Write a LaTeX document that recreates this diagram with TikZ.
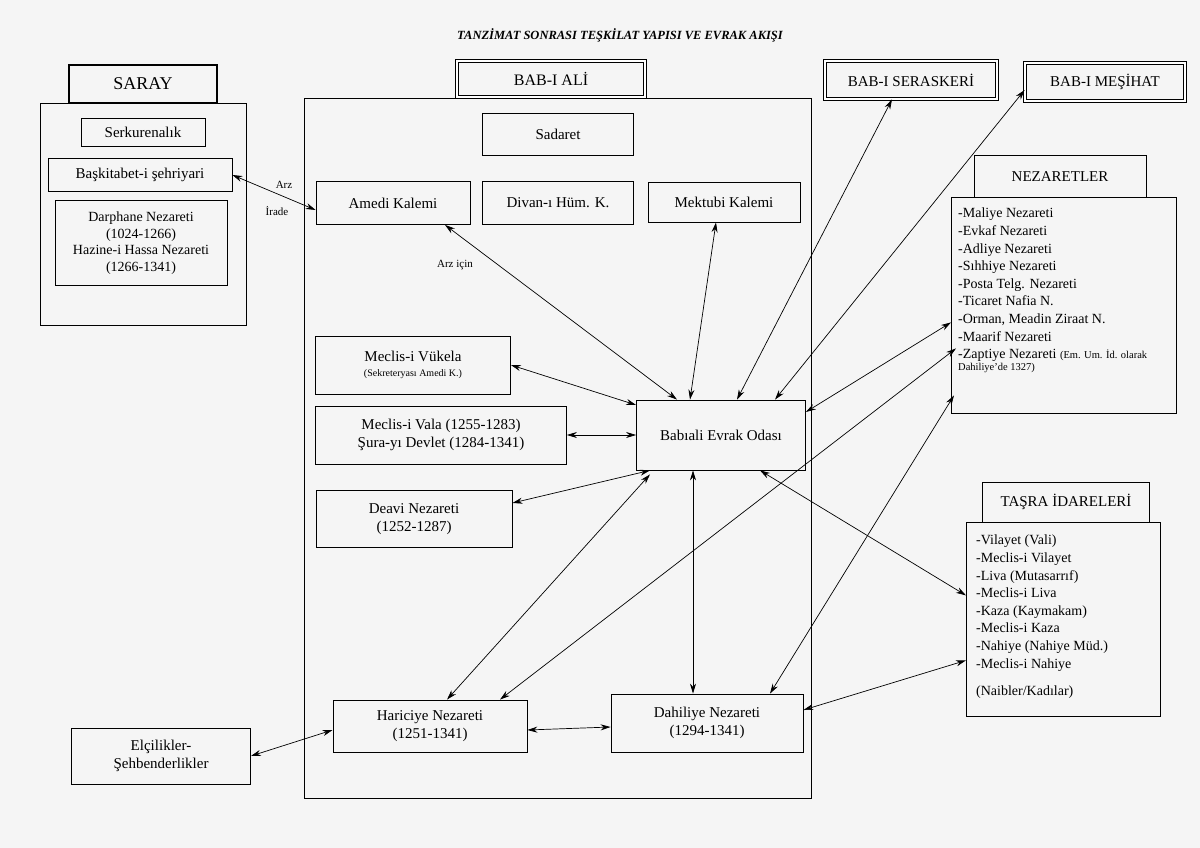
\documentclass[tikz,border=0pt]{standalone}
\usepackage{fontspec}
\setmainfont{Liberation Serif}
\usetikzlibrary{arrows.meta,calc}
\begin{document}
\begin{tikzpicture}[x=1pt,y=-1pt,
  box/.style={draw,line width=0.8pt,inner sep=2pt,align=center,font=\fontsize{15}{18}\selectfont},
  dbl/.style={box,double,double distance=1.6pt,font=\fontsize{16}{18}\selectfont},
  lst/.style={anchor=north west,align=left,inner sep=0pt,font=\fontsize{14}{17.6}\selectfont},
  arr/.style={{Stealth[length=10pt,width=6pt]}-{Stealth[length=10pt,width=6pt]},line width=0.7pt},
  lbl/.style={font=\fontsize{11}{13}\selectfont}]
\useasboundingbox (0,0) rectangle (1200,848);
\fill[gray!8] (0,0) rectangle (1200,848);
\node[font=\bfseries\itshape\fontsize{12.5}{14}\selectfont] (title) at (620,35) {TANZİMAT SONRASI TEŞKİLAT YAPISI VE EVRAK AKIŞI};
% SARAY
\node[draw,line width=0.8pt,minimum width=206pt,minimum height=222pt] (sarayc) at (143,214) {};
\node[box,line width=2.2pt,minimum width=148pt,minimum height=38pt,fill=gray!8,font=\fontsize{18}{20}\selectfont] (saray) at (143,84) {SARAY};
\node[box,minimum width=124pt,minimum height=28pt] (serk) at (143,132) {Serkurenalık};
\node[box,minimum width=184pt,minimum height=33pt] (bask) at (140,175) {Başkitabet-i şehriyari};
\node[box,minimum width=172pt,minimum height=85pt,font=\fontsize{14}{16.5}\selectfont] (darp) at (141,243) {Darphane Nezareti\\(1024-1266)\\Hazine-i Hassa Nezareti\\(1266-1341)};
% BAB-I ALI
\node[draw,line width=0.8pt,minimum width=507pt,minimum height=700pt] (babc) at (558,448) {};
\node[dbl,minimum width=188pt,minimum height=36pt,fill=gray!8] (bab) at (551,79) {BAB-I ALİ};
\node[box,minimum width=151pt,minimum height=42pt] (sad) at (558,134) {Sadaret};
\node[box,minimum width=154pt,minimum height=43pt] (amedi) at (393,203) {Amedi Kalemi};
\node[box,minimum width=151pt,minimum height=43pt] (divan) at (558,203) {Divan-ı Hüm. K.};
\node[box,minimum width=152pt,minimum height=40pt] (mekt) at (724,202) {Mektubi Kalemi};
\node[box,minimum width=195pt,minimum height=58pt] (vuk) at (413,365) {Meclis-i Vükela\\[-3pt]{\fontsize{10}{12}\selectfont (Sekreteryası Amedi K.)}};
\node[box,minimum width=251pt,minimum height=58pt] (vala) at (441,435) {Meclis-i Vala (1255-1283)\\Şura-yı Devlet (1284-1341)};
\node[box,minimum width=196pt,minimum height=57pt] (deavi) at (414,519) {Deavi Nezareti\\(1252-1287)};
\node[box,minimum width=169pt,minimum height=70pt] (evrak) at (721,435) {Babıali Evrak Odası};
\node[box,minimum width=194pt,minimum height=52pt] (har) at (430,726) {Hariciye Nezareti\\(1251-1341)};
\node[box,minimum width=192pt,minimum height=58pt] (dah) at (707,723) {Dahiliye Nezareti\\(1294-1341)};
\node[box,minimum width=179pt,minimum height=56pt] (elc) at (161,756) {Elçilikler-\\Şehbenderlikler};
% right
\node[dbl,minimum width=172pt,minimum height=38pt,font=\fontsize{15}{17}\selectfont] (ser) at (911,80) {BAB-I SERASKERİ};
\node[dbl,minimum width=160pt,minimum height=38pt,font=\fontsize{15}{17}\selectfont] (mes) at (1105,82) {BAB-I MEŞİHAT};
\node[box,minimum width=172pt,minimum height=42pt,anchor=north] (nezh) at (1060,155) {NEZARETLER};
\node[draw,line width=0.8pt,minimum width=225pt,minimum height=216pt,anchor=north west,fill=gray!8] (nez) at (951,197) {};
\node[lst] (nezt) at (958,208) {-Maliye Nezareti\\-Evkaf Nezareti\\-Adliye Nezareti\\-Sıhhiye Nezareti\\-Posta Telg. Nezareti\\-Ticaret Nafia N.\\-Orman, Meadin Ziraat N.\\-Maarif Nezareti\\-Zaptiye Nezareti {\fontsize{10.5}{12}\selectfont (Em. Um. İd. olarak}\\[-6pt]{\fontsize{10.5}{12}\selectfont Dahiliye'de 1327)}};
\node[box,minimum width=167pt,minimum height=40pt,anchor=north] (tash) at (1066,482) {TAŞRA İDARELERİ};
\node[draw,line width=0.8pt,minimum width=194pt,minimum height=194pt,anchor=north west,fill=gray!8] (tas) at (966,522) {};
\node[lst] (tast) at (976,535) {-Vilayet (Vali)\\-Meclis-i Vilayet\\-Liva (Mutasarrıf)\\-Meclis-i Liva\\-Kaza (Kaymakam)\\-Meclis-i Kaza\\-Nahiye (Nahiye Müd.)\\-Meclis-i Nahiye\\[10pt](Naibler/Kadılar)};
% arrows
\draw[arr] (bask.east) -- ([yshift=-7pt]amedi.west);
\node[lbl] at (284,185) {Arz};
\node[lbl] at (277,211) {İrade};
\draw[arr] ([xshift=52pt]amedi.south) -- ([xshift=-44pt]evrak.north);
\node[lbl] at (455,265) {Arz için};
\draw[arr] ([xshift=-8pt]mekt.south) -- ([xshift=-31pt]evrak.north);
\draw[arr] ([xshift=-19pt]ser.south) -- ([xshift=16pt]evrak.north);
\draw[arr] ([yshift=-8pt]mes.west) -- ([xshift=54pt]evrak.north);
\draw[arr] (vuk.east) -- ([yshift=30pt]evrak.west);
\draw[arr] (vala.east) -- (evrak.west);
\draw[arr] ([yshift=16pt]deavi.east) -- ([xshift=-71pt]evrak.south);
\draw[arr] ([yshift=23pt]evrak.east) -- ([yshift=-17pt]nez.west);
\draw[arr] ([xshift=39pt]evrak.south) -- ([yshift=24pt]tas.west);
\draw[arr] ([xshift=-28pt]evrak.south) -- ([xshift=-14pt]dah.north);
\draw[arr] ([xshift=17pt]har.north) -- ([xshift=-71pt,yshift=-4pt]evrak.south);
\draw[arr] ([xshift=70pt]har.north) -- ([xshift=5pt,yshift=-43pt]nez.west);
\draw[arr] ([xshift=63pt]dah.north) -- ([xshift=3pt,yshift=-90pt]nez.west);
\draw[arr] ([yshift=13pt]dah.east) -- ([yshift=-41pt]tas.west);
\draw[arr] ([yshift=-4pt]har.east) -- ([yshift=-4pt]dah.west);
\draw[arr] (elc.east) -- ([yshift=-4pt]har.west);
\end{tikzpicture}
\end{document}
